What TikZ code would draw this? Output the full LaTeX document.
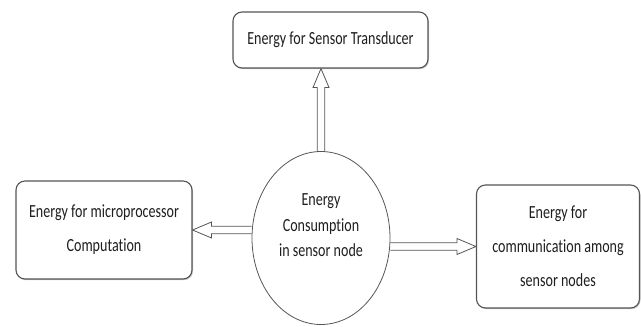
\documentclass[tikz,border=0pt]{standalone}
\usepackage{fontspec}
\setmainfont{Carlito}[FakeStretch=0.76,Ligatures=NoCommon]
\usetikzlibrary{calc,shapes.geometric,shadows}
\definecolor{edge}{HTML}{555555}
\definecolor{ink}{HTML}{1E1E1E}

\begin{document}
\begin{tikzpicture}[x=1pt,y=-1pt,
  box/.style={draw=edge,line width=1.1pt,rounded corners=9pt,fill=white,align=center,text=ink,inner sep=0pt,
    font=\fontsize{18.5}{34}\selectfont,drop shadow={shadow xshift=1pt,shadow yshift=-1.2pt,fill=black!45,opacity=.5}},
  hollow/.style={draw=edge,line width=.8pt,line join=miter,to path={
    ($(\tikztostart)!3.8pt!90:(\tikztotarget)$) -- ($(\tikztotarget)!19pt!(\tikztostart)!3.8pt!-90:(\tikztostart)$)
    -- ($(\tikztotarget)!19pt!(\tikztostart)!8pt!-90:(\tikztostart)$) -- (\tikztotarget)
    -- ($(\tikztotarget)!19pt!(\tikztostart)!8pt!90:(\tikztostart)$) -- ($(\tikztotarget)!19pt!(\tikztostart)!3.8pt!90:(\tikztostart)$)
    -- ($(\tikztostart)!3.8pt!-90:(\tikztotarget)$)}}]
\useasboundingbox (0,0) rectangle (641,327);
% the three consumers and the node in the middle
\node[box,minimum width=195pt,minimum height=56pt] (sensor) at (330.5,40) {Energy for Sensor Transducer};
\node[box,minimum width=176pt,minimum height=98pt] (cpu) at (104,230) {Energy for microprocessor\\Computation};
\node[box,minimum width=163pt,minimum height=123pt] (comm) at (558,246.5) {Energy for\\communication among\\sensor nodes};
\node[ellipse,draw=edge,line width=.8pt,minimum width=138pt,minimum height=173pt,inner sep=0pt,align=center,text=ink,
  text depth=25pt,font=\fontsize{18.5}{25.5}\selectfont] (core) at (321,238) {Energy\\Consumption\\in sensor node};
% hollow arrows
\coordinate (tipS) at (core.north |- sensor.south);
\coordinate (tailC) at (core.west |- cpu.east);
\coordinate (tailM) at (core.east |- comm.west);
\draw[hollow] (core.north) to (tipS);
\draw[hollow] (tailC) to (cpu.east);
\draw[hollow] (tailM) to (comm.west);
\end{tikzpicture}
\end{document}
